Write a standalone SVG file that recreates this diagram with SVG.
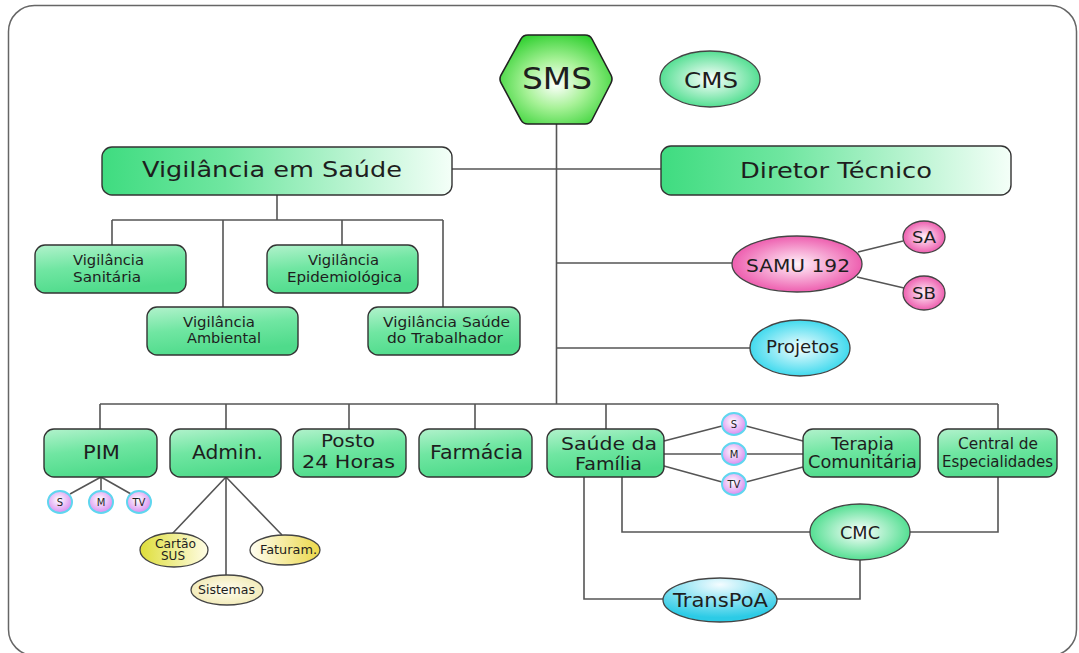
<svg xmlns="http://www.w3.org/2000/svg" width="1079" height="653" viewBox="0 0 1079 653">
<defs>
<linearGradient id="gH" x1="0" y1="0" x2="1" y2="0"><stop offset="0" stop-color="#3fdc80"/><stop offset="0.35" stop-color="#6fe6a0"/><stop offset="1" stop-color="#f4fff8"/></linearGradient>
<linearGradient id="gBox" x1="0" y1="0" x2="0.3" y2="1"><stop offset="0" stop-color="#b2f2cc"/><stop offset="0.5" stop-color="#70e6a2"/><stop offset="1" stop-color="#4fdb8b"/></linearGradient>
<radialGradient id="gSMS" cx="0.5" cy="0.55" r="0.6"><stop offset="0" stop-color="#ffffff"/><stop offset="0.45" stop-color="#a8f298"/><stop offset="1" stop-color="#30d030"/></radialGradient>
<radialGradient id="gGreen" cx="0.5" cy="0.5" r="0.55"><stop offset="0" stop-color="#ffffff"/><stop offset="1" stop-color="#44dc88"/></radialGradient>
<radialGradient id="gPink" cx="0.5" cy="0.5" r="0.55"><stop offset="0" stop-color="#fff2f9"/><stop offset="1" stop-color="#ec50a8"/></radialGradient>
<radialGradient id="gCyan" cx="0.5" cy="0.5" r="0.55"><stop offset="0" stop-color="#f4feff"/><stop offset="1" stop-color="#2fd6ec"/></radialGradient>
<radialGradient id="gTrans" cx="0.5" cy="0.15" r="0.75"><stop offset="0" stop-color="#f4fcff"/><stop offset="1" stop-color="#2ccbe6"/></radialGradient>
<radialGradient id="gVio" cx="0.45" cy="0.4" r="0.6"><stop offset="0" stop-color="#ffffff"/><stop offset="1" stop-color="#d88cf0"/></radialGradient>
<linearGradient id="gYelL" x1="0" y1="0" x2="1" y2="0"><stop offset="0" stop-color="#dede3a"/><stop offset="1" stop-color="#fffde6"/></linearGradient>
<linearGradient id="gYelR" x1="0" y1="0" x2="1" y2="0"><stop offset="0" stop-color="#fffef2"/><stop offset="1" stop-color="#ecd84a"/></linearGradient>
<radialGradient id="gYelP" cx="0.5" cy="0.5" r="0.6"><stop offset="0" stop-color="#fffdf0"/><stop offset="1" stop-color="#f0e8b0"/></radialGradient>
</defs>
<style>
.frame{fill:#ffffff;stroke:#666;stroke-width:1.5}
.ln{fill:none;stroke:#555;stroke-width:1.6}
.bx{stroke:#333;stroke-width:1.4}
.el{stroke:#444;stroke-width:1.3}
.sm{fill:url(#gVio);stroke:#5fd6ef;stroke-width:2}
text{font-family:"DejaVu Sans","Verdana",sans-serif;fill:#1e1e1e}
.t21{font-size:21px}.t19{font-size:19px}.t18{font-size:18px}.t17{font-size:17px}.t15{font-size:15px}.t14{font-size:14px}.t12{font-size:12px}
.t10{font-size:10px;text-anchor:middle}
</style>
<rect class="frame" x="8.5" y="5.5" width="1068" height="650" rx="26"/>

<g id="connectors">
<path class="ln" d="M556.5,124 V404 M452,169 H661"/>
<path class="ln" d="M277,195 V220 M112,220 H443 M112,220 V245 M223,220 V307 M342,220 V245 M443,220 V307"/>
<path class="ln" d="M556.5,263 H732 M858,252 L903,241 M857,277 L904,288 M556.5,348 H750"/>
<path class="ln" d="M100,404 H998 M100,404 V429 M226,404 V429 M349,404 V429 M475,404 V429 M606,404 V429 M998,404 V429"/>
<path class="ln" d="M101,477 L70,494 M101,477 V491 M101,477 L131,494"/>
<path class="ln" d="M226,477 L172,534 M226,477 V575 M226,477 L282,535"/>
<path class="ln" d="M664,441 L722,426 M746,426 L803,441 M664,454 H722 M746,454 H803 M664,466 L722,482 M746,482 L803,467"/>
<path class="ln" d="M622,477 V532 H811 M910,532 H998 V477 M584,477 V599 H663 M777,599 H860 V560"/>
</g>

<g id="sms"><path d="M528,35 L585,35 Q590,35 592,39 L611,75 Q613,79 611,83 L592,120 Q590,124 585,124 L528,124 Q523,124 521,120 L501,83 Q499,79 501,75 L521,39 Q523,35 528,35 Z" fill="url(#gSMS)" stroke="#222" stroke-width="1.6"/><text class="t21" style="font-size:30px" x="522" y="89" textLength="70" lengthAdjust="spacingAndGlyphs">SMS</text></g>
<g id="cms"><ellipse class="el" cx="710" cy="79" rx="50" ry="28" fill="url(#gGreen)"/><text class="t21" x="684" y="88" textLength="54" lengthAdjust="spacingAndGlyphs">CMS</text></g>

<g id="vig-saude"><rect class="bx" x="102" y="147" width="350" height="48" rx="10" fill="url(#gH)"/><text class="t21" x="142" y="177" textLength="260" lengthAdjust="spacingAndGlyphs">Vigilância em Saúde</text></g>
<g id="diretor"><rect class="bx" x="661" y="146" width="350" height="49" rx="10" fill="url(#gH)"/><text class="t21" x="740" y="178" textLength="192" lengthAdjust="spacingAndGlyphs">Diretor Técnico</text></g>

<g id="vig-sanitaria"><rect class="bx" x="35" y="245" width="151" height="48" rx="10" fill="url(#gBox)"/><text class="t14" x="73" y="265" textLength="71" lengthAdjust="spacingAndGlyphs">Vigilância</text><text class="t14" x="73" y="282" textLength="68" lengthAdjust="spacingAndGlyphs">Sanitária</text></g>
<g id="vig-ambiental"><rect class="bx" x="147" y="307" width="151" height="48" rx="10" fill="url(#gBox)"/><text class="t14" x="183" y="327" textLength="72" lengthAdjust="spacingAndGlyphs">Vigilância</text><text class="t14" x="187" y="343" textLength="74" lengthAdjust="spacingAndGlyphs">Ambiental</text></g>
<g id="vig-epidemiologica"><rect class="bx" x="267" y="245" width="151" height="48" rx="10" fill="url(#gBox)"/><text class="t14" x="308" y="265" textLength="71" lengthAdjust="spacingAndGlyphs">Vigilância</text><text class="t14" x="287" y="282" textLength="115" lengthAdjust="spacingAndGlyphs">Epidemiológica</text></g>
<g id="vig-trabalhador"><rect class="bx" x="368" y="307" width="152" height="48" rx="10" fill="url(#gBox)"/><text class="t14" x="383" y="327" textLength="127" lengthAdjust="spacingAndGlyphs">Vigilância Saúde</text><text class="t14" x="387" y="343" textLength="116" lengthAdjust="spacingAndGlyphs">do Trabalhador</text></g>

<g id="samu"><ellipse class="el" cx="797" cy="264" rx="65" ry="28" fill="url(#gPink)"/><text class="t18" x="746" y="272" textLength="104" lengthAdjust="spacingAndGlyphs">SAMU 192</text></g>
<g id="sa"><ellipse class="el" cx="924" cy="237" rx="21" ry="16" fill="url(#gPink)"/><text class="t15" style="font-size:16px" x="912" y="243" textLength="24" lengthAdjust="spacingAndGlyphs">SA</text></g>
<g id="sb"><ellipse class="el" cx="924" cy="293" rx="21" ry="17" fill="url(#gPink)"/><text class="t15" style="font-size:16px" x="912" y="299" textLength="24" lengthAdjust="spacingAndGlyphs">SB</text></g>
<g id="projetos"><ellipse class="el" cx="800" cy="348" rx="50" ry="28" fill="url(#gCyan)"/><text class="t17" x="766" y="353" textLength="73" lengthAdjust="spacingAndGlyphs">Projetos</text></g>

<g id="pim"><rect class="bx" x="44" y="429" width="113" height="48" rx="10" fill="url(#gBox)"/><text class="t19" x="83" y="459" textLength="37" lengthAdjust="spacingAndGlyphs">PIM</text>
<ellipse class="sm" cx="60" cy="502" rx="12" ry="11"/><text class="t10" x="60" y="506">S</text>
<ellipse class="sm" cx="101" cy="502" rx="12" ry="11"/><text class="t10" x="101" y="506">M</text>
<ellipse class="sm" cx="139" cy="502" rx="12" ry="11"/><text class="t10" x="139" y="506">TV</text></g>
<g id="admin"><rect class="bx" x="170" y="429" width="111" height="48" rx="10" fill="url(#gBox)"/><text class="t19" x="192" y="459" textLength="71" lengthAdjust="spacingAndGlyphs">Admin.</text></g>
<g id="cartao-sus"><ellipse class="el" cx="174" cy="550" rx="34" ry="17" fill="url(#gYelL)"/><text class="t12" x="155" y="548" textLength="41" lengthAdjust="spacingAndGlyphs">Cartão</text><text class="t12" x="161" y="560" textLength="24" lengthAdjust="spacingAndGlyphs">SUS</text></g>
<g id="sistemas"><ellipse class="el" cx="227" cy="590" rx="36" ry="15" fill="url(#gYelP)"/><text class="t12" x="198" y="594" textLength="57" lengthAdjust="spacingAndGlyphs">Sistemas</text></g>
<g id="faturam"><ellipse class="el" cx="285" cy="550" rx="35" ry="15" fill="url(#gYelR)"/><text class="t12" x="260" y="554" textLength="57" lengthAdjust="spacingAndGlyphs">Faturam.</text></g>
<g id="posto"><rect class="bx" x="293" y="429" width="113" height="48" rx="10" fill="url(#gBox)"/><text class="t18" x="321" y="447" textLength="54" lengthAdjust="spacingAndGlyphs">Posto</text><text class="t18" x="302" y="468" textLength="93" lengthAdjust="spacingAndGlyphs">24 Horas</text></g>
<g id="farmacia"><rect class="bx" x="419" y="429" width="113" height="48" rx="10" fill="url(#gBox)"/><text class="t19" x="430" y="459" textLength="93" lengthAdjust="spacingAndGlyphs">Farmácia</text></g>
<g id="saude-familia"><rect class="bx" x="547" y="429" width="117" height="48" rx="10" fill="url(#gBox)"/><text class="t18" x="561" y="450" textLength="96" lengthAdjust="spacingAndGlyphs">Saúde da</text><text class="t18" x="575" y="470" textLength="67" lengthAdjust="spacingAndGlyphs">Família</text></g>
<g id="sf-circles">
<ellipse class="sm" cx="734" cy="424" rx="12" ry="11"/><text class="t10" x="734" y="428">S</text>
<ellipse class="sm" cx="734" cy="454" rx="12" ry="11"/><text class="t10" x="734" y="458">M</text>
<ellipse class="sm" cx="734" cy="484" rx="12" ry="11"/><text class="t10" x="734" y="488">TV</text></g>
<g id="terapia"><rect class="bx" x="803" y="429" width="117" height="48" rx="10" fill="url(#gBox)"/><text class="t17" x="831" y="450" textLength="63" lengthAdjust="spacingAndGlyphs">Terapia</text><text class="t17" x="808" y="468" textLength="109" lengthAdjust="spacingAndGlyphs">Comunitária</text></g>
<g id="central"><rect class="bx" x="938" y="429" width="119" height="48" rx="10" fill="url(#gBox)"/><text class="t15" x="958" y="449" textLength="80" lengthAdjust="spacingAndGlyphs">Central de</text><text class="t15" x="942" y="467" textLength="111" lengthAdjust="spacingAndGlyphs">Especialidades</text></g>
<g id="cmc"><ellipse class="el" cx="860" cy="532" rx="50" ry="28" fill="url(#gGreen)"/><text class="t18" x="840" y="539" textLength="40" lengthAdjust="spacingAndGlyphs">CMC</text></g>
<g id="transpoa"><ellipse class="el" cx="720" cy="600" rx="57" ry="22" fill="url(#gTrans)"/><text class="t19" x="673" y="607" textLength="95" lengthAdjust="spacingAndGlyphs">TransPoA</text></g>
</svg>
